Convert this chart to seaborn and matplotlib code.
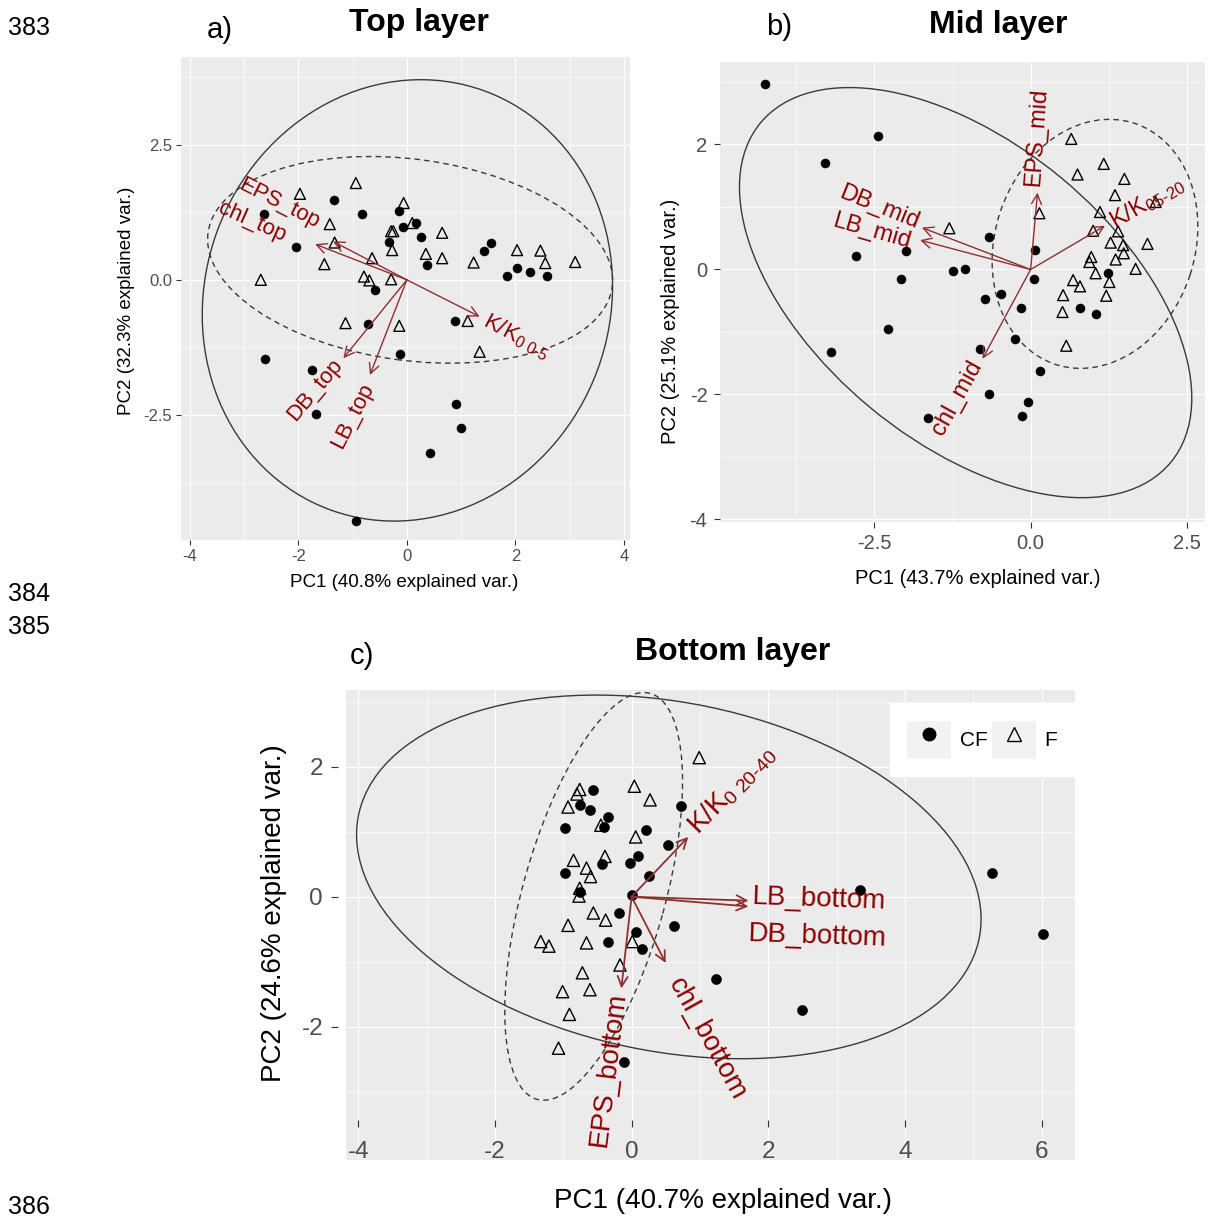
import matplotlib
matplotlib.use("Agg")
import matplotlib.pyplot as plt
import seaborn as sns
from matplotlib.legend_handler import HandlerTuple
from matplotlib.lines import Line2D
from matplotlib.patches import Ellipse, Patch

sns.set_theme(style="darkgrid", rc={"axes.facecolor": "#EBEBEB", "grid.color": "white",
                                    "axes.edgecolor": "#EBEBEB", "text.color": "black",
                                    "axes.labelcolor": "black"})
plt.rcParams["font.family"] = ["Liberation Sans", "DejaVu Sans"]
plt.rcParams.update({
    "axes.unicode_minus": False,
    "mathtext.fontset": "custom",
    "mathtext.rm": "Liberation Sans",
    "mathtext.it": "Liberation Sans:italic",
    "mathtext.bf": "Liberation Sans:bold",
    "mathtext.default": "regular",
})

ARROW = "#8E3030"
TEXT = "#8B0000"

# ---------------- a) Top layer ----------------
top_cf_x = [-2.63, -1.34, -0.82, -0.15, -0.07, 0.17, 0.26, -0.33, -2.04, 0.37, 1.55, 1.42, 2.02, 1.84,
            2.26, 2.59, -0.58, -0.72, 0.89, -0.13, -2.61, -1.75, -1.68, 0.91, 0.99, 0.42, -0.93]
top_cf_y = [1.21, 1.48, 1.21, 1.28, 0.98, 1.06, 0.80, 0.70, 0.61, 0.28, 0.69, 0.54, 0.22, 0.08,
            0.15, 0.08, -0.19, -0.81, -0.77, -1.38, -1.46, -1.66, -2.48, -2.30, -2.74, -3.20, -4.46]
top_f_x = [-0.94, -1.97, -0.06, 0.10, -1.42, -0.29, -0.25, 0.65, -1.33, -0.27, -0.64, 0.35, 0.65, -1.52,
           1.23, 2.03, 2.46, 2.55, 3.10, -2.69, -0.79, -0.69, -0.29, -1.13, -0.14, 1.12, 1.34]
top_f_y = [1.79, 1.59, 1.42, 1.05, 1.03, 0.90, 0.90, 0.87, 0.69, 0.55, 0.40, 0.48, 0.40, 0.29,
           0.32, 0.55, 0.54, 0.31, 0.33, 0.00, 0.06, -0.01, 0.01, -0.80, -0.85, -0.76, -1.33]
top_vars = ["EPS_top", "chl_top", "DB_top", "LB_top", r"K/K$_{0\ 0\text{-}5}$"]
top_load_x = [-1.36, -1.69, -1.17, -0.68, 1.34]
top_load_y = [0.71, 0.66, -1.45, -1.76, -0.68]
# ellipses: CF (solid), F (dashed)
top_ell_cx = [0.01, 0.06]
top_ell_cy = [-0.38, 0.37]
top_ell_w = [8.25, 7.51]
top_ell_h = [7.46, 3.72]
top_ell_ang = [69.9, -7.7]

# ---------------- b) Mid layer ----------------
mid_cf_x = [-4.25, -2.45, -3.29, -2.79, -2.00, -2.08, -1.25, -1.05, -0.66, 0.07, 0.06, -0.73, -0.47,
            -0.15, -2.28, -3.20, -0.81, -0.25, 0.15, -0.66, -0.05, -1.64, -0.14, 1.23, 0.79, 1.04]
mid_cf_y = [2.96, 2.14, 1.70, 0.21, 0.29, -0.15, -0.02, 0.00, 0.52, 0.31, -0.15, -0.48, -0.40,
            -0.61, -0.96, -1.32, -1.28, -1.11, -1.62, -1.99, -2.12, -2.37, -2.35, -0.06, -0.61, -0.71]
mid_f_x = [0.65, 1.17, 0.75, 1.50, 1.35, 2.00, 1.11, 0.14, -1.30, 1.00, 1.40, 1.28, 1.87, 1.48,
           0.97, 1.36, 1.49, 0.94, 1.68, 1.04, 0.68, 1.26, 0.79, 0.52, 1.21, 0.51, 0.57]
mid_f_y = [2.09, 1.69, 1.52, 1.45, 1.19, 1.08, 0.92, 0.90, 0.66, 0.62, 0.61, 0.43, 0.41, 0.39,
           0.20, 0.16, 0.26, 0.12, 0.01, -0.06, -0.17, -0.20, -0.27, -0.41, -0.42, -0.68, -1.22]
mid_vars = ["EPS_mid", r"K/K$_{05\text{-}20}$", "DB_mid", "LB_mid", "chl_mid"]
mid_load_x = [0.11, 1.19, -1.74, -1.77, -0.77]
mid_load_y = [1.23, 0.70, 0.67, 0.47, -1.43]
mid_ell_cx = [-1.04, 1.03]
mid_ell_cy = [-0.37, 0.41]
mid_ell_w = [8.52, 4.06]
mid_ell_h = [4.78, 3.20]
mid_ell_ang = [-39.6, 72.0]

# ---------------- c) Bottom layer ----------------
bot_cf_x = [-0.57, -0.76, -0.61, -0.35, -0.41, -0.97, 0.21, 0.73, 0.54, 0.10, -0.02, -0.43, -0.97, 0.26,
            -0.76, 0.00, -0.18, 0.62, 0.06, -0.35, 0.15, 1.24, -0.11, 2.50, 3.35, 5.27, 6.02]
bot_cf_y = [1.64, 1.41, 1.34, 1.23, 1.08, 1.05, 1.02, 1.40, 0.79, 0.62, 0.52, 0.50, 0.37, 0.32,
            0.08, 0.02, -0.25, -0.45, -0.55, -0.70, -0.81, -1.26, -2.54, -1.74, 0.11, 0.37, -0.58]
bot_f_x = [0.99, -0.76, -0.80, 0.04, 0.27, -0.93, -0.45, 0.06, -0.85, -0.39, -0.66, -0.60, -0.76, -0.77,
           -0.56, -0.38, -0.93, -1.33, -1.21, -0.66, 0.01, -0.17, -0.72, -1.01, -0.61, -0.91, -1.07]
bot_f_y = [2.14, 1.65, 1.58, 1.70, 1.49, 1.38, 1.10, 0.92, 0.56, 0.62, 0.44, 0.31, 0.13, 0.01,
           -0.25, -0.36, -0.44, -0.69, -0.76, -0.71, -0.69, -1.05, -1.17, -1.46, -1.43, -1.81, -2.33]
bot_vars = [r"K/K$_{0\ 20\text{-}40}$", "LB_bottom", "DB_bottom", "chl_bottom", "EPS_bottom"]
bot_load_x = [0.83, 1.71, 1.71, 0.50, -0.15]
bot_load_y = [0.92, -0.06, -0.15, -1.02, -1.41]
bot_ell_cx = [0.545, -0.555]
bot_ell_cy = [0.305, 0.005]
bot_ell_w = [9.28, 6.46]
bot_ell_h = [5.36, 2.09]
bot_ell_ang = [-12.2, 75.3]

# label placement (anchor in data units, rotation in degrees)
top_lab_xy = [(-1.63, 1.05), (-2.25, 0.79), (-1.26, -1.51), (-0.71, -1.94), (1.44, -0.74)]
top_lab_rot = [-27, -24, 50, 63, -28]
mid_lab_xy = [(0.04, 1.34), (1.30, 0.74), (-1.80, 0.74), (-1.93, 0.43), (-0.85, -1.48)]
mid_lab_rot = [86, 30, -22, -16, 61]
bot_lab_xy = [(0.90, 1.03), (1.76, 0.00), (1.71, -0.57), (0.63, -1.28), (-0.20, -1.46)]
bot_lab_rot = [46, -2, -2, -61, 83]


def draw_biplot(ax, cf_x, cf_y, f_x, f_y, vars_, lx, ly, ecx, ecy, ew, eh, ea,
                lab_xy, lab_rot, lab_fs, pt_scale=1.0, arrow_lw=1.0):
    sns.scatterplot(x=cf_x, y=cf_y, ax=ax, color="black", edgecolor="black", s=42 * pt_scale,
                    linewidth=0.4, zorder=3, legend=False)
    sns.scatterplot(x=f_x, y=f_y, ax=ax, marker="^", facecolor="none", edgecolor="black",
                    s=62 * pt_scale, linewidth=1.0, zorder=3, legend=False)
    for i, ls in enumerate(["-", (0, (4, 3))]):
        ax.add_patch(Ellipse((ecx[i], ecy[i]), ew[i], eh[i], angle=ea[i], fill=False,
                             ec="#3A3A3A", lw=1.0, ls=ls, zorder=2))
    for name, x, y, (tx, ty), rot in zip(vars_, lx, ly, lab_xy, lab_rot):
        ax.annotate("", xy=(x, y), xytext=(0, 0),
                    arrowprops=dict(arrowstyle="->,head_length=0.6,head_width=0.3", color=ARROW,
                                    lw=arrow_lw, shrinkA=0, shrinkB=0), zorder=4)
        ax.text(tx, ty, name, rotation=rot, rotation_mode="anchor",
                ha="left" if x > 0 else "right", va="center", color=TEXT, fontsize=lab_fs, zorder=5)
    for s in ax.spines.values():
        s.set_visible(False)


def style_axes(ax, xmaj, xmin, ymaj, ymin, xlabs, ylabs, tick_fs, tick_len, tick_pad):
    ax.set_xticks(xmaj, xlabs)
    ax.set_yticks(ymaj, ylabs)
    ax.set_xticks(xmin, minor=True)
    ax.set_yticks(ymin, minor=True)
    ax.grid(which="major", color="white", lw=0.85)
    ax.grid(which="minor", color="white", lw=0.45)
    ax.tick_params(which="major", bottom=True, left=True, length=tick_len, width=0.8,
                   color="#333333", labelcolor="#4D4D4D", labelsize=tick_fs, pad=tick_pad)
    ax.tick_params(which="minor", length=0)


fig = plt.figure(figsize=(12.12, 12.17), dpi=100)
W, H = 1212, 1217


def rect(x0, y0, x1, y1):
    return [x0 / W, 1 - y1 / H, (x1 - x0) / W, (y1 - y0) / H]


# ---- panel a
ax_a = fig.add_axes(rect(181, 57, 630, 540))
draw_biplot(ax_a, top_cf_x, top_cf_y, top_f_x, top_f_y, top_vars, top_load_x, top_load_y,
            top_ell_cx, top_ell_cy, top_ell_w, top_ell_h, top_ell_ang, top_lab_xy, top_lab_rot, 16)
ax_a.set_xlim(-4.16, 4.11)
ax_a.set_ylim(-4.81, 4.12)
style_axes(ax_a, [-4, -2, 0, 2, 4], [-3, -1, 1, 3], [-2.5, 0, 2.5], [-3.75, -1.25, 1.25, 3.75],
           ["-4", "-2", "0", "2", "4"], ["-2.5", "0.0", "2.5"], 12, 3.5, 3)
ax_a.set_xlabel("PC1 (40.8% explained var.)", fontsize=13.5, color="black")
ax_a.set_ylabel("PC2 (32.3% explained var.)", fontsize=13.5, color="black")
ax_a.xaxis.set_label_coords(0.497, -0.070)
ax_a.yaxis.set_label_coords(-0.102, 0.495)

# ---- panel b
ax_b = fig.add_axes(rect(720, 62, 1205, 522))
draw_biplot(ax_b, mid_cf_x, mid_cf_y, mid_f_x, mid_f_y, mid_vars, mid_load_x, mid_load_y,
            mid_ell_cx, mid_ell_cy, mid_ell_w, mid_ell_h, mid_ell_ang, mid_lab_xy, mid_lab_rot, 17)
ax_b.set_xlim(-4.97, 2.79)
ax_b.set_ylim(-4.04, 3.32)
style_axes(ax_b, [-2.5, 0, 2.5], [-3.75, -1.25, 1.25], [-4, -2, 0, 2], [-3, -1, 1, 3],
           ["-2.5", "0.0", "2.5"], ["-4", "-2", "0", "2"], 14.5, 4, 5)
ax_b.set_xlabel("PC1 (43.7% explained var.)", fontsize=14.5, color="black")
ax_b.set_ylabel("PC2 (25.1% explained var.)", fontsize=14.5, color="black")
ax_b.xaxis.set_label_coords(0.532, -0.102)
ax_b.yaxis.set_label_coords(-0.082, 0.437)

# ---- panel c
ax_c = fig.add_axes(rect(346, 690, 1075, 1160))
draw_biplot(ax_c, bot_cf_x, bot_cf_y, bot_f_x, bot_f_y, bot_vars, bot_load_x, bot_load_y,
            bot_ell_cx, bot_ell_cy, bot_ell_w, bot_ell_h, bot_ell_ang, bot_lab_xy, bot_lab_rot, 20,
            pt_scale=1.25, arrow_lw=1.3)
ax_c.set_xlim(-4.18, 6.49)
ax_c.set_ylim(-4.05, 3.18)
style_axes(ax_c, [-4, -2, 0, 2, 4, 6], [-3, -1, 1, 3, 5], [-2, 0, 2], [-3, -1, 1, 3],
           ["-4", "-2", "0", "2", "4", "6"], ["-2", "0", "2"], 17.5, 5, 5.5)
ax_c.spines["bottom"].set_position(("data", -3.44))
ax_c.spines["left"].set_position(("outward", 6))
ax_c.tick_params(axis="x", pad=10)
ax_c.set_xlabel("PC1 (40.7% explained var.)", fontsize=20, color="black")
ax_c.set_ylabel("PC2 (24.6% explained var.)", fontsize=20, color="black")
ax_c.xaxis.set_label_coords(0.517, -0.060)
ax_c.yaxis.set_label_coords(-0.081, 0.526)

key_bg = "#F2F2F2"
handles = [(Patch(fc=key_bg, ec="none"), Line2D([], [], marker="o", ls="", color="black", ms=9)),
           (Patch(fc=key_bg, ec="none"), Line2D([], [], marker="^", ls="", mfc="none", mec="black",
                                                 ms=10, mew=1.0))]
leg = ax_c.legend(handles, ["CF", "F"], handler_map={tuple: HandlerTuple(ndivide=1)}, ncol=2,
                  loc="upper right", bbox_to_anchor=(1.0, 0.972), borderaxespad=0, frameon=True,
                  facecolor="white", edgecolor="none", fancybox=False, framealpha=1, fontsize=15,
                  handlelength=2.1, handleheight=2.45, borderpad=0.85, columnspacing=0.25,
                  handletextpad=0.4)
leg.set_zorder(6)

# ---- titles, panel letters, manuscript line numbers
fig.text(8 / W, 1 - 35 / H, "383", fontsize=18, va="baseline")
fig.text(8 / W, 1 - 601 / H, "384", fontsize=18, va="baseline")
fig.text(8 / W, 1 - 634 / H, "385", fontsize=18, va="baseline")
fig.text(8 / W, 1 - 1214 / H, "386", fontsize=18, va="baseline")

fig.text(207 / W, 1 - 38 / H, "a)", fontsize=21, va="baseline")
fig.text(419 / W, 1 - 31 / H, "Top layer", fontsize=23, fontweight="bold", ha="center", va="baseline")
fig.text(766 / W, 1 - 35 / H, "b)", fontsize=21, va="baseline")
fig.text(998 / W, 1 - 33 / H, "Mid layer", fontsize=23, fontweight="bold", ha="center", va="baseline")
fig.text(350 / W, 1 - 664 / H, "c)", fontsize=21, va="baseline")
fig.text(733 / W, 1 - 660 / H, "Bottom layer", fontsize=23, fontweight="bold", ha="center",
         va="baseline")

fig.savefig("out.png", dpi=100)
